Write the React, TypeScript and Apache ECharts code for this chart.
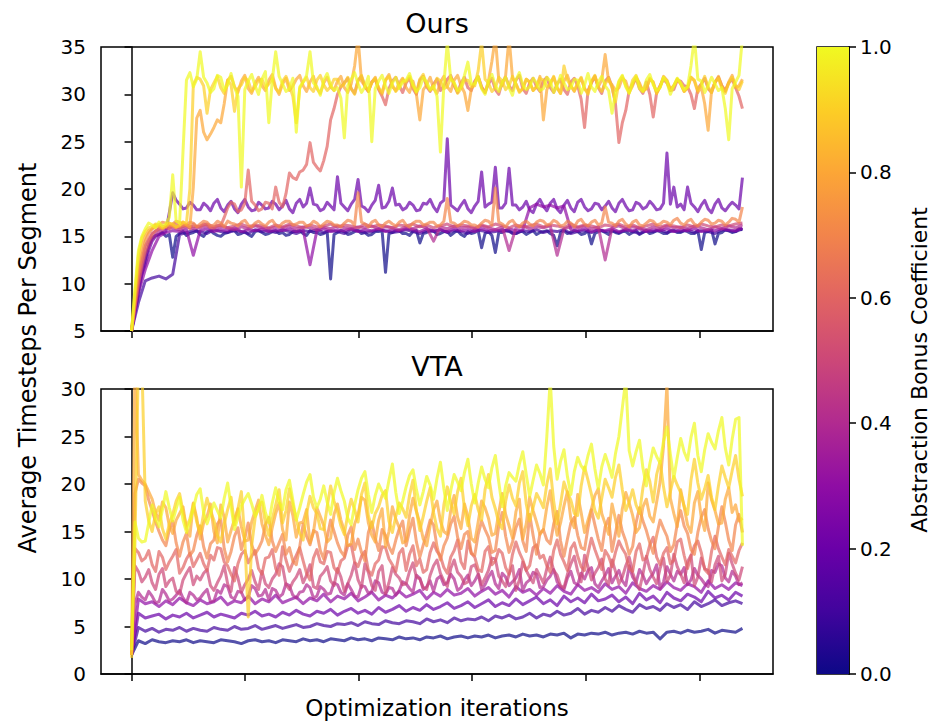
import React, { useEffect, useRef } from "react";
import * as echarts from "echarts";

// ---------- data ----------
const COEFS = [0.0, 0.1, 0.2, 0.3, 0.4, 0.5, 0.6, 0.7, 0.8, 0.9, 1.0];
const PLASMA = ["#0d0887", "#41049d", "#6a00a8", "#8f0da4", "#b12a90", "#cc4778", "#e16462", "#f2844b", "#fca636", "#fcce25", "#f0f921"];
const X_TICKS = [0, 100, 200, 300, 400, 500];
const X_LAST = 538; // last iteration shown
const CB_TICKS = [0, 0.2, 0.4, 0.6, 0.8, 1.0];

// "Ours" panel, one array per coefficient (samples evenly spaced over the run)
const OURS_00 = [5.0, 7.0, 9.0, 11.0, 12.5, 14.0, 14.8, 15.1, 15.2, 15.4, 15.0, 15.2, 12.8, 15.0, 15.3, 15.5, 15.1, 15.3, 15.4, 15.6,
  15.2, 15.0, 15.5, 15.6, 15.3, 15.1, 15.0, 15.3, 15.4, 15.6, 15.6, 15.2, 15.3, 15.5, 15.2, 15.0, 15.5, 15.6, 15.4, 15.2,
  15.3, 15.5, 15.6, 15.3, 15.4, 15.1, 15.2, 15.5, 15.5, 15.6, 15.3, 15.1, 15.6, 15.4, 15.4, 15.2, 15.3, 15.5, 10.5, 15.2,
  15.4, 15.6, 15.5, 15.2, 15.3, 15.5, 15.6, 15.3, 15.4, 15.1, 15.2, 15.5, 15.5, 15.6, 11.2, 15.3, 15.4, 15.6, 15.6, 15.3,
  15.3, 15.1, 15.5, 15.6, 14.3, 15.3, 15.4, 15.6, 15.6, 15.2, 15.3, 15.5, 15.5, 15.1, 15.4, 15.6, 15.2, 15.0, 15.5, 15.3,
  15.4, 15.6, 13.8, 15.3, 15.5, 15.1, 13.3, 15.4, 15.4, 15.6, 15.6, 15.3, 15.3, 15.5, 15.5, 15.2, 15.4, 15.6, 15.2, 15.4,
  15.5, 15.6, 15.3, 15.1, 14.0, 15.4, 15.6, 15.3, 15.4, 15.6, 15.5, 15.2, 15.3, 15.6, 14.2, 15.3, 15.5, 15.6, 15.4, 15.2,
  15.6, 15.4, 15.3, 15.5, 15.5, 15.2, 15.4, 15.6, 15.2, 15.4, 15.6, 15.3, 15.4, 15.6, 15.5, 15.3, 15.3, 15.6, 15.6, 15.4,
  15.4, 15.6, 15.5, 15.3, 15.3, 15.6, 13.6, 15.4, 15.5, 15.7, 14.2, 15.3, 15.4, 15.7, 15.6, 15.4, 15.5, 15.8, 15.7];
const OURS_01 = [5.0, 8.0, 10.3, 10.6, 10.8, 10.5, 11.0, 15.2, 15.4, 15.6, 15.5, 15.3, 15.7, 15.5, 15.4, 15.6, 15.5, 15.3, 15.7, 15.5, 15.6, 15.4, 15.7, 15.5, 15.3, 15.6, 15.5, 15.7, 15.4, 15.6, 15.5, 15.3, 15.7, 15.6, 15.4, 15.5, 15.7, 15.6, 15.4, 15.5, 15.7, 15.5, 15.3, 15.6, 15.5, 15.7, 15.4, 15.6, 15.5, 15.3, 15.7, 15.6, 15.4, 15.5, 15.7, 15.5, 15.3, 15.6, 15.5, 15.7, 15.4, 15.6, 15.5, 15.7, 15.3, 15.5, 15.6, 15.4, 15.7, 15.5, 15.6, 15.4, 15.7, 15.5, 15.3, 15.6, 15.5, 15.7, 15.4, 15.6, 15.5, 15.7, 15.4, 15.6, 15.5, 15.3, 15.7, 15.6, 15.5, 15.8];
const OURS_02 = [5.0, 7.5, 9.5, 11.0, 12.0, 13.5, 14.5, 15.0, 15.2, 15.4, 15.5, 17.5, 19.6, 18.8, 18.4, 17.9, 18.0, 18.6, 18.3, 17.8,
  17.8, 18.5, 18.2, 17.7, 18.5, 18.9, 18.0, 17.6, 18.3, 18.7, 17.9, 17.5, 18.4, 18.9, 18.1, 17.7, 17.8, 18.6, 18.3, 17.9,
  18.0, 18.7, 18.4, 17.8, 18.2, 18.8, 17.9, 17.5, 18.5, 18.9, 18.1, 18.5, 20.1, 18.4, 18.3, 17.7, 17.9, 18.6, 18.2, 17.8,
  21.3, 18.5, 18.1, 17.7, 18.4, 18.9, 21.0, 18.2, 18.0, 17.6, 18.3, 18.8, 20.4, 18.0, 18.1, 18.7, 20.1, 18.3, 18.4, 17.8,
  18.0, 18.6, 18.3, 17.7, 17.8, 18.5, 18.4, 18.9, 18.1, 17.6, 18.5, 18.8, 25.3, 18.3, 18.0, 17.7, 18.3, 18.8, 17.9, 17.5,
  18.2, 18.7, 21.8, 18.1, 18.4, 18.6, 22.3, 18.0, 18.0, 18.5, 22.2, 18.3, 18.3, 17.8, 18.1, 18.7, 17.8, 17.5, 18.4, 18.9,
  18.2, 17.7, 18.5, 18.9, 17.9, 17.5, 18.3, 18.8, 18.0, 17.6, 18.6, 18.9, 18.1, 17.7, 17.9, 18.5, 18.4, 17.8, 18.2, 18.7,
  18.0, 17.6, 18.5, 18.9, 18.2, 17.7, 17.8, 18.6, 18.4, 17.9, 18.1, 18.7, 18.3, 17.8, 17.9, 18.5, 23.8, 18.4, 20.2, 18.1,
  18.4, 17.8, 20.2, 18.5, 18.1, 17.6, 18.3, 18.8, 17.9, 17.5, 18.4, 18.9, 18.0, 17.7, 18.2, 18.6, 18.3, 17.9, 21.2];
const OURS_03 = [5.0, 9.0, 11.5, 13.5, 15.0, 15.4, 15.6, 15.5, 15.7, 13.0, 15.6, 15.8, 15.5, 15.7, 15.6, 15.9, 15.5, 15.7, 15.6, 15.8, 15.5, 15.7, 15.6, 15.8, 15.5, 15.7, 12.0, 15.6, 15.8, 15.5, 15.7, 15.6, 15.8, 15.5, 15.7, 15.6, 15.8, 15.5, 15.7, 15.6, 15.8, 15.7, 15.5, 15.8, 15.6, 15.7, 15.5, 15.8, 15.6, 15.7, 15.5, 15.8, 15.6, 15.7, 15.5, 15.8, 15.6, 15.7, 18.0, 18.4, 18.1, 18.3, 18.0, 18.2, 15.7, 15.6, 15.8, 15.5, 15.7, 15.6, 15.8, 15.5, 15.7, 15.6, 15.8, 15.5, 15.7, 15.6, 15.8, 15.5, 15.7, 15.6, 15.8, 15.5, 15.7, 15.6, 15.8, 15.7, 15.6, 15.9];
const OURS_04 = [5.0, 10.0, 13.0, 14.8, 15.5, 15.8, 15.9, 15.7, 16.0, 15.8, 15.9, 16.1, 15.8, 16.0, 15.9, 15.7, 16.0, 15.8, 16.1, 15.9, 15.8, 16.0, 15.9, 16.1, 15.8, 16.0, 15.9, 15.7, 16.0, 15.8, 16.1, 15.9, 15.8, 16.0, 15.9, 16.1, 15.8, 16.0, 15.9, 15.7, 16.0, 15.8, 16.1, 15.9, 14.5, 16.0, 15.8, 16.1, 15.9, 16.0, 15.8, 16.1, 15.9, 15.7, 16.0, 13.5, 15.9, 16.1, 15.8, 16.0, 15.9, 16.1, 13.0, 15.8, 16.0, 15.9, 16.1, 15.8, 16.0, 12.5, 15.9, 16.1, 15.8, 16.0, 15.9, 15.7, 16.0, 15.8, 16.1, 15.9, 16.0, 15.8, 16.1, 15.9, 15.7, 16.0, 15.8, 16.1, 15.9, 16.2];
const OURS_05 = [5.0, 11.0, 14.0, 15.3, 15.8, 16.0, 16.1, 15.9, 16.2, 16.0, 16.1, 16.3, 16.0, 16.2, 15.9, 16.1, 16.3, 16.0, 16.2, 16.1, 15.9, 16.2, 16.0, 16.3, 16.1, 15.9, 16.2, 16.0, 16.1, 16.3, 16.0, 16.2, 16.1, 15.9, 16.3, 16.0, 16.2, 16.1, 15.9, 16.2, 16.1, 16.3, 16.0, 16.2, 15.9, 16.1, 16.3, 16.0, 16.2, 16.1, 15.9, 16.2, 16.0, 16.3, 16.1, 15.9, 16.2, 16.0, 16.1, 16.3, 16.0, 16.2, 16.1, 15.9, 16.3, 16.0, 16.2, 16.1, 15.9, 16.2, 16.1, 16.3, 16.0, 16.2, 15.9, 16.1, 16.3, 16.0, 16.2, 16.1, 15.9, 16.2, 16.0, 16.3, 16.1, 16.0, 16.2, 16.1, 16.3, 16.4];
const OURS_06 = [5.0, 7.5, 10.0, 12.0, 13.5, 14.5, 15.2, 15.6, 15.8, 16.1, 16.0, 15.8, 16.2, 16.4, 15.9, 16.1, 16.1, 15.8, 16.3, 16.0,
  16.0, 16.3, 16.2, 15.9, 15.9, 16.2, 16.1, 17.0, 18.0, 18.6, 18.4, 17.6, 17.8, 18.5, 22.0, 18.7, 18.3, 17.7, 17.9, 18.6,
  18.5, 17.9, 20.2, 18.6, 18.1, 19.5, 21.7, 21.2, 21.0, 21.8, 22.0, 22.6, 24.9, 22.8, 22.3, 21.9, 23.0, 24.5, 27.3, 28.5,
  30.0, 30.8, 31.2, 31.7, 30.6, 30.1, 31.5, 31.9, 30.8, 30.3, 31.3, 31.6, 30.5, 29.8, 28.9, 30.6, 31.4, 31.8, 30.9, 30.2,
  31.2, 31.7, 30.6, 30.0, 31.5, 31.9, 30.8, 30.3, 31.1, 31.6, 30.4, 30.9, 31.6, 32.0, 30.9, 30.2, 31.2, 31.8, 30.7, 30.4,
  31.4, 31.9, 30.8, 30.2, 31.1, 31.7, 30.5, 30.0, 31.3, 31.8, 30.9, 30.4, 31.5, 32.0, 30.6, 30.1, 31.2, 31.7, 30.8, 30.3,
  31.4, 31.8, 30.7, 30.2, 31.1, 31.6, 30.5, 30.0, 31.3, 31.7, 30.9, 29.5, 26.5, 30.4, 31.2, 31.9, 30.7, 30.1, 31.4, 31.8,
  30.8, 29.0, 24.9, 27.0, 28.3, 30.4, 31.1, 31.7, 30.6, 30.1, 31.3, 30.0, 27.6, 30.2, 30.9, 31.6, 31.2, 30.4, 30.5, 31.5,
  31.4, 30.9, 30.8, 30.0, 28.5, 30.6, 31.1, 31.7, 30.6, 30.2, 31.3, 31.8, 30.9, 30.4, 31.2, 31.6, 30.7, 29.8, 28.5];
const OURS_07 = [5.0, 8.0, 11.0, 13.0, 14.5, 15.3, 15.8, 16.0, 16.2, 16.5, 16.4, 16.1, 16.3, 16.6, 16.5, 16.2, 16.2, 16.5, 16.4, 16.0,
  16.3, 16.6, 16.5, 16.1, 16.2, 16.6, 16.4, 16.0, 16.6, 16.4, 16.3, 16.1, 16.5, 16.7, 16.2, 16.0, 16.4, 16.6, 16.3, 16.1,
  16.5, 16.7, 16.2, 16.0, 16.4, 16.6, 16.6, 16.2, 16.3, 16.5, 16.5, 16.1, 16.2, 16.6, 16.4, 16.0, 16.3, 16.6, 16.5, 16.2,
  16.2, 16.0, 16.4, 16.7, 16.6, 16.2, 19.6, 16.5, 16.3, 16.0, 16.5, 16.7, 16.2, 16.0, 16.4, 16.6, 16.3, 16.1, 16.5, 16.7,
  16.2, 16.0, 16.4, 16.6, 16.6, 16.2, 16.3, 16.5, 16.5, 16.1, 16.2, 16.6, 19.0, 16.5, 16.4, 16.1, 16.3, 16.6, 16.5, 16.2,
  16.2, 16.0, 16.4, 16.7, 16.6, 16.2, 20.1, 16.5, 16.3, 16.0, 16.5, 16.7, 16.2, 16.0, 16.4, 16.6, 16.3, 16.1, 16.5, 16.7,
  16.6, 16.2, 16.3, 16.7, 16.5, 16.1, 16.2, 16.6, 16.4, 16.0, 16.6, 16.8, 16.3, 16.1, 16.5, 16.7, 16.2, 16.4, 18.1, 16.5,
  16.4, 16.1, 16.6, 16.8, 16.3, 16.0, 16.5, 16.7, 16.2, 16.1, 16.4, 16.7, 16.6, 16.2, 16.3, 16.6, 16.5, 16.2, 16.7, 16.9,
  16.4, 16.2, 16.6, 16.8, 16.3, 16.1, 16.5, 16.8, 16.7, 16.3, 16.4, 16.7, 16.6, 16.2, 16.5, 16.9, 16.8, 16.5, 18.1];
const OURS_08 = [5.0, 8.5, 12.0, 14.0, 15.0, 15.6, 15.8, 16.2, 16.0, 15.8, 16.2, 16.4, 16.1, 15.9, 16.3, 16.5, 16.2, 16.0, 20.2, 27.5,
  28.3, 26.0, 25.2, 25.8, 26.5, 27.3, 27.0, 29.0, 31.5, 31.9, 30.8, 30.2, 31.4, 32.0, 30.6, 30.1, 31.2, 31.8, 30.9, 30.4,
  31.5, 32.1, 30.7, 30.0, 31.1, 31.7, 30.4, 30.9, 31.6, 32.0, 30.9, 30.3, 31.3, 31.9, 30.6, 30.1, 31.2, 31.8, 30.8, 30.4,
  31.4, 31.9, 30.7, 30.2, 31.1, 33.0, 36.0, 31.4, 30.9, 30.3, 31.3, 31.8, 30.6, 30.0, 31.5, 32.1, 30.8, 30.4, 31.2, 31.7,
  30.7, 30.2, 31.4, 30.0, 27.3, 30.5, 31.0, 31.8, 30.6, 30.1, 31.3, 31.9, 30.8, 30.3, 31.5, 32.0, 30.9, 30.2, 28.3, 30.6,
  31.2, 31.8, 30.7, 30.2, 31.4, 33.5, 36.0, 31.5, 30.9, 32.0, 36.0, 31.7, 31.1, 30.3, 30.6, 31.6, 31.3, 30.4, 30.8, 31.9,
  27.3, 30.5, 31.2, 31.8, 30.7, 30.1, 31.4, 32.0, 30.9, 30.3, 31.1, 31.7, 30.6, 30.2, 31.3, 31.9, 30.8, 31.5, 34.2, 31.4,
  31.0, 30.4, 30.7, 31.7, 31.4, 30.2, 30.9, 31.8, 31.2, 30.3, 30.6, 31.6, 31.3, 30.1, 30.8, 31.9, 31.5, 30.5, 30.9, 31.6,
  31.1, 30.3, 30.7, 31.8, 31.4, 30.2, 30.8, 29.0, 26.2, 30.4, 31.2, 31.9, 30.9, 30.3, 31.3, 32.0, 30.7, 30.9, 31.6];
const OURS_09 = [5.0, 9.0, 13.0, 14.8, 15.5, 15.9, 16.0, 16.3, 16.2, 15.9, 16.0, 16.4, 16.3, 16.0, 16.1, 16.5, 16.4, 20.0, 31.0, 31.8,
  31.6, 30.9, 28.0, 30.5, 31.2, 31.9, 30.7, 30.1, 31.5, 31.0, 28.2, 30.6, 31.0, 31.8, 31.4, 30.3, 30.8, 31.5, 31.6, 30.7,
  31.1, 31.7, 30.6, 30.2, 31.4, 31.9, 30.9, 29.8, 27.0, 30.6, 31.3, 31.8, 30.7, 30.3, 31.5, 32.0, 31.0, 30.4, 30.8, 31.6,
  31.6, 30.8, 31.1, 31.8, 30.6, 30.0, 31.4, 32.0, 30.9, 30.4, 31.2, 31.7, 30.7, 30.2, 31.5, 31.9, 31.0, 30.3, 30.8, 31.6,
  31.3, 31.9, 30.9, 30.2, 31.6, 32.1, 31.0, 30.4, 30.7, 31.7, 31.4, 30.6, 30.8, 31.8, 31.2, 30.1, 30.6, 31.5, 31.5, 30.8,
  30.9, 32.5, 35.5, 31.6, 31.2, 30.3, 30.7, 31.8, 31.4, 30.5, 30.9, 31.9, 31.1, 30.2, 30.6, 31.6, 31.3, 30.4, 30.8, 31.7,
  31.5, 30.8, 31.0, 31.9, 30.7, 30.1, 33.0, 31.5, 30.9, 30.4, 31.2, 31.8, 30.6, 30.0, 31.4, 32.0, 30.8, 30.3, 31.1, 31.7,
  30.7, 29.2, 31.3, 31.9, 30.9, 30.2, 31.5, 32.0, 31.0, 30.4, 30.6, 31.7, 31.2, 30.1, 30.8, 31.8, 31.4, 30.5, 30.9, 31.6,
  31.1, 30.3, 30.7, 31.8, 31.5, 30.4, 31.0, 31.9, 30.8, 30.2, 31.3, 31.7, 30.6, 30.1, 31.2, 31.8, 31.0, 30.5, 31.4];
const OURS_10 = [5.0, 9.5, 13.5, 15.0, 15.8, 16.4, 16.2, 15.9, 16.5, 16.1, 16.3, 17.0, 21.5, 16.6, 16.4, 24.0, 31.5, 32.3, 30.8, 31.6,
  34.5, 31.8, 31.2, 30.2, 30.6, 32.0, 31.8, 30.4, 31.0, 32.2, 30.7, 29.8, 20.2, 30.5, 31.4, 32.1, 30.9, 30.0, 31.6, 32.4,
  27.0, 31.5, 34.5, 31.9, 31.1, 30.3, 30.6, 31.7, 26.0, 30.8, 31.3, 32.0, 34.5, 31.2, 30.8, 29.9, 31.5, 32.2, 31.0, 30.4,
  30.7, 29.6, 25.4, 30.9, 31.6, 32.3, 31.1, 30.2, 30.8, 31.9, 25.0, 30.6, 31.4, 32.0, 30.9, 30.1, 31.2, 31.8, 30.6, 31.3,
  31.5, 32.2, 31.0, 30.3, 30.7, 31.8, 31.3, 30.5, 30.9, 29.8, 23.9, 31.0, 35.5, 31.6, 31.2, 30.4, 30.8, 32.0, 33.4, 31.1,
  31.1, 31.9, 30.6, 30.0, 31.4, 32.1, 30.9, 30.3, 31.3, 31.8, 30.7, 29.9, 31.5, 32.3, 31.0, 30.5, 30.8, 31.7, 31.2, 30.4,
  30.6, 31.8, 31.4, 30.2, 30.9, 32.0, 31.2, 30.5, 30.7, 31.6, 31.5, 30.1, 31.0, 32.2, 30.8, 30.3, 31.3, 31.9, 30.9, 30.4,
  28.0, 30.2, 31.4, 32.0, 30.8, 30.1, 31.2, 31.9, 30.6, 30.3, 31.5, 32.1, 31.0, 30.4, 30.7, 31.8, 31.3, 30.0, 30.9, 31.7,
  31.2, 30.5, 30.8, 33.0, 36.0, 31.6, 31.4, 30.2, 30.9, 31.8, 31.1, 30.4, 30.7, 28.5, 25.2, 30.6, 31.3, 32.0, 36.0];

// "VTA" panel
const VTA_00 = [2.0, 3.5, 3.2, 3.6, 3.4, 3.3, 3.5, 3.4, 3.6, 3.3, 3.5, 3.4, 3.3, 3.6, 3.5, 3.4, 3.2, 3.5, 3.6, 3.4, 3.5, 3.3, 3.6, 3.5, 3.4, 3.7, 3.5, 3.6, 3.4, 3.7, 3.6, 3.5, 3.8, 3.6, 3.7, 3.5, 3.8, 3.7, 3.6, 3.9, 3.7, 3.8, 3.6, 3.9, 3.8, 4.0, 3.7, 3.9, 4.0, 3.8, 4.0, 3.9, 4.1, 3.8, 4.0, 4.1, 3.9, 4.2, 4.0, 4.1, 3.9, 4.2, 4.1, 4.3, 3.8, 4.2, 4.1, 4.3, 4.2, 4.4, 4.1, 4.3, 4.4, 4.2, 4.5, 4.3, 4.4, 3.7, 4.4, 4.5, 4.3, 4.6, 4.4, 4.5, 4.7, 4.3, 4.6, 4.5, 4.4, 4.8];
const VTA_01 = [2.0, 4.9, 4.5, 4.8, 4.4, 4.7, 4.6, 4.9, 4.5, 4.8, 4.6, 4.5, 4.9, 4.7, 4.6, 5.0, 4.7, 4.8, 5.1, 4.7, 4.9, 5.1, 4.8, 5.0, 5.2, 4.9, 5.0, 5.3, 5.1, 5.0, 5.3, 5.2, 5.4, 5.1, 5.5, 5.3, 5.2, 5.6, 5.4, 5.3, 5.6, 5.5, 5.3, 5.8, 5.5, 5.7, 5.4, 5.9, 5.6, 5.8, 5.7, 6.0, 5.6, 6.1, 5.9, 6.2, 5.8, 6.0, 6.4, 5.9, 6.3, 6.1, 6.6, 6.2, 6.4, 6.9, 6.3, 6.7, 6.5, 7.0, 6.6, 7.2, 6.8, 6.5, 7.3, 6.9, 7.1, 6.7, 7.4, 7.0, 7.3, 6.8, 7.6, 7.1, 7.4, 7.8, 7.2, 7.5, 7.7, 7.4];
const VTA_02 = [2.0, 6.4, 5.9, 6.1, 6.3, 5.8, 6.2, 6.0, 6.4, 5.9, 6.2, 6.5, 6.0, 6.3, 6.1, 5.9, 6.4, 6.2, 6.6, 6.1, 6.3, 6.0, 6.5, 6.2, 6.7, 6.3, 6.1, 6.6, 6.4, 6.8, 6.2, 6.6, 6.9, 6.4, 6.7, 6.3, 7.0, 6.5, 6.8, 7.2, 6.6, 7.0, 6.7, 7.3, 6.8, 7.1, 7.5, 6.9, 7.2, 7.6, 7.0, 7.4, 7.8, 7.1, 7.5, 7.2, 7.9, 7.3, 7.7, 8.1, 7.4, 7.8, 7.2, 8.2, 7.6, 8.0, 7.5, 8.4, 7.7, 7.9, 8.3, 7.6, 8.1, 7.4, 8.5, 7.8, 8.2, 7.5, 8.6, 8.0, 7.7, 8.4, 8.1, 7.6, 8.7, 8.0, 8.3, 7.8, 8.6, 8.2];
const VTA_03 = [2.0, 7.9, 7.4, 7.6, 7.1, 7.7, 7.3, 8.0, 7.5, 7.2, 7.8, 7.4, 7.6, 8.1, 7.3, 7.7, 7.5, 8.2, 7.4, 7.9, 7.6, 8.3, 7.5, 7.8, 8.1, 7.4, 8.0, 7.7, 8.4, 7.6, 8.2, 7.9, 8.5, 7.7, 8.1, 8.6, 7.8, 8.3, 8.0, 8.7, 8.1, 8.4, 8.8, 7.9, 8.6, 8.2, 8.9, 8.3, 8.5, 9.0, 8.2, 8.7, 9.1, 8.4, 8.8, 8.1, 9.2, 8.6, 8.9, 8.3, 9.0, 8.5, 9.3, 8.7, 8.4, 9.4, 8.8, 9.1, 8.6, 9.5, 8.9, 9.2, 8.5, 9.6, 9.0, 8.7, 9.3, 8.9, 9.7, 9.1, 8.8, 9.5, 9.2, 8.6, 9.8, 9.0, 9.4, 8.9, 9.6, 9.3];
const VTA_04 = [2.0, 7.4, 8.6, 8.1, 7.8, 8.7, 8.2, 7.5, 7.6, 8.9, 8.4, 7.7, 7.9, 8.3, 8.8, 8.0, 7.5, 8.6, 8.3, 7.8,
  8.0, 8.5, 8.9, 7.6, 7.7, 8.8, 8.5, 9.4, 9.2, 8.1, 7.9, 8.7, 8.6, 7.8, 8.1, 9.3, 9.0, 8.2, 8.3, 8.9,
  7.8, 9.0, 8.8, 8.1, 8.4, 9.5, 9.3, 8.3, 8.0, 8.6, 8.7, 9.4, 9.1, 8.0, 8.2, 9.2, 8.9, 8.4, 8.5, 9.6,
  9.4, 8.6, 8.3, 9.5, 8.9, 8.2, 8.1, 9.3, 9.2, 8.5, 8.7, 9.8, 9.6, 8.6, 8.4, 9.1, 9.0, 8.3, 8.8, 9.7,
  9.5, 9.0, 8.6, 10.4, 10.1, 8.9, 9.2, 9.8, 8.7, 10.0, 10.3, 9.4, 9.6, 10.5, 10.0, 8.8, 9.1, 9.9, 10.4, 9.3,
  9.8, 10.5, 8.9, 9.4, 10.2, 10.8, 9.5, 9.0, 10.6, 10.2, 9.3, 9.7, 10.1, 11.0, 8.8, 9.6, 9.9, 10.7, 10.5, 9.1,
  9.2, 9.9, 10.3, 11.0, 9.7, 9.2, 8.9, 10.1, 10.8, 9.6, 9.4, 10.6, 10.0, 10.9, 11.2, 9.5, 9.1, 9.8, 10.4, 11.1,
  9.6, 10.3, 10.9, 9.8, 9.3, 11.4, 10.2, 9.6, 11.0, 10.4, 9.5, 10.1, 10.6, 11.5, 9.0, 9.7, 11.3, 10.5, 9.8, 10.8,
  10.5, 11.2, 9.4, 9.9, 11.1, 10.4, 10.0, 9.5, 9.2, 10.9, 10.7, 11.6, 11.4, 10.1, 9.7, 10.8, 10.3, 9.4, 9.6];
const VTA_05 = [2.0, 11.4, 10.8, 9.7, 10.2, 11.0, 9.6, 8.9, 10.5, 11.1, 9.2, 9.8, 10.1, 8.7, 8.4, 9.9, 10.6, 11.2, 9.4, 10.3,
  9.9, 10.6, 11.0, 9.3, 8.8, 9.6, 10.3, 11.4, 9.5, 8.7, 11.2, 10.1, 8.6, 9.4, 10.0, 10.9, 9.7, 8.9, 10.8, 9.5,
  9.1, 10.0, 10.5, 11.6, 11.3, 9.4, 8.9, 9.7, 10.2, 11.0, 9.6, 10.4, 11.5, 9.2, 9.0, 10.3, 10.7, 11.3, 9.8, 9.3,
  11.1, 10.2, 8.7, 9.5, 10.4, 11.7, 9.9, 9.1, 11.6, 10.7, 9.3, 8.8, 10.8, 11.4, 8.5, 9.6, 11.2, 10.5, 10.1, 9.4,
  9.5, 10.8, 11.7, 10.2, 10.0, 9.1, 8.9, 10.4, 11.4, 12.0, 10.6, 9.8, 9.2, 11.1, 12.0, 10.7, 10.3, 9.5, 9.7, 11.3,
  11.5, 10.6, 9.4, 10.1, 10.9, 12.2, 12.1, 10.3, 9.8, 9.2, 10.5, 11.4, 8.8, 9.9, 11.8, 10.9, 10.2, 9.6, 11.0, 10.3,
  9.6, 11.1, 12.3, 10.9, 10.4, 9.3, 9.1, 10.5, 11.6, 12.4, 10.8, 9.7, 12.5, 11.3, 9.9, 10.6, 11.2, 12.1, 10.0, 9.4,
  12.0, 10.8, 9.5, 10.2, 11.4, 12.3, 10.7, 9.6, 8.9, 10.5, 12.4, 11.0, 10.2, 9.5, 11.1, 12.2, 9.7, 10.4, 12.6, 11.3,
  10.5, 9.6, 11.8, 12.5, 9.3, 10.2, 12.2, 11.1, 10.9, 9.7, 11.5, 12.4, 9.8, 10.5, 12.7, 11.6, 10.6, 9.9, 11.3];
const VTA_06 = [2.0, 13.2, 12.8, 11.9, 12.2, 13.0, 11.5, 10.8, 12.9, 12.3, 11.0, 11.8, 12.4, 13.1, 10.6, 11.2, 12.1, 12.7, 11.3, 12.0,
  12.7, 11.6, 10.9, 12.5, 12.0, 13.3, 13.2, 11.8, 11.4, 10.5, 9.8, 11.6, 12.6, 13.0, 11.7, 12.4, 13.0, 11.1, 10.5, 12.2,
  12.3, 13.1, 11.1, 10.4, 13.4, 12.0, 10.8, 11.7, 12.5, 13.3, 11.9, 10.6, 9.9, 12.2, 13.1, 11.8, 11.6, 12.9, 12.8, 11.2,
  10.7, 11.9, 12.2, 13.5, 13.6, 11.8, 11.3, 12.4, 12.9, 10.9, 10.4, 11.6, 12.0, 13.4, 13.3, 12.1, 11.5, 10.8, 12.7, 13.2,
  10.9, 12.6, 13.5, 11.4, 12.1, 10.7, 11.0, 12.8, 13.8, 12.9, 12.4, 11.2, 10.6, 12.3, 13.0, 14.1, 11.8, 11.1, 14.0, 12.7,
  12.3, 11.0, 10.8, 12.9, 13.4, 11.5, 11.9, 13.1, 12.7, 11.2, 10.5, 12.6, 13.9, 12.8, 12.0, 10.9, 11.4, 13.3, 13.6, 12.2,
  12.5, 11.4, 10.7, 13.0, 14.1, 12.6, 11.8, 10.9, 13.2, 13.8, 12.4, 11.3, 10.9, 12.7, 14.3, 13.1, 12.1, 11.0, 13.0, 12.4,
  11.3, 12.8, 14.0, 13.2, 12.6, 11.1, 10.8, 12.9, 13.7, 12.0, 12.2, 13.6, 14.4, 12.3, 11.5, 12.7, 13.3, 11.6, 12.0, 13.9,
  14.2, 12.5, 11.1, 12.4, 13.5, 14.0, 12.8, 11.0, 10.6, 12.9, 14.5, 13.2, 12.3, 11.5, 13.1, 12.4, 11.7, 13.0, 13.8];
const VTA_07 = [2.0, 19.0, 20.5, 20.1, 19.8, 18.3, 17.2, 16.0, 15.0, 14.1, 13.5, 15.2, 16.1, 13.8, 12.4, 13.9, 14.8, 12.5, 13.0, 14.6,
  15.6, 13.4, 12.2, 13.7, 14.1, 15.8, 16.3, 13.2, 11.8, 12.9, 14.5, 15.4, 13.1, 14.3, 15.9, 13.6, 12.6, 13.2, 14.0, 15.7,
  16.5, 14.0, 12.9, 13.8, 14.7, 12.6, 13.3, 11.9, 11.5, 13.4, 15.8, 14.5, 13.6, 15.1, 14.9, 13.0, 12.1, 14.4, 16.2, 15.0,
  13.8, 12.9, 12.4, 14.6, 15.5, 13.1, 14.2, 12.8, 11.9, 14.9, 16.0, 14.3, 13.0, 15.2, 14.6, 13.4, 12.7, 14.1, 15.3, 16.1,
  13.5, 15.1, 16.4, 13.9, 12.3, 13.6, 14.8, 16.2, 15.7, 13.4, 12.0, 13.5, 14.3, 15.8, 16.6, 14.4, 13.2, 14.7, 15.0, 12.7,
  12.5, 14.7, 16.1, 15.2, 14.4, 12.8, 13.0, 15.6, 17.0, 14.5, 12.8, 13.9, 15.4, 16.3, 14.0, 12.9, 16.8, 14.6, 12.6, 14.8,
  15.2, 14.1, 13.7, 15.8, 17.1, 14.0, 12.4, 14.2, 15.9, 16.5, 14.6, 13.3, 13.1, 15.4, 17.3, 15.7, 14.2, 13.0, 15.5, 16.4,
  12.9, 14.8, 16.7, 15.0, 14.0, 12.6, 13.4, 15.9, 17.5, 16.1, 15.1, 13.8, 12.7, 14.6, 16.2, 15.3, 14.5, 12.9, 13.6, 15.8,
  17.2, 15.6, 14.8, 13.1, 12.6, 14.9, 16.5, 17.3, 15.3, 14.0, 13.2, 15.5, 17.6, 16.0, 14.1, 13.0, 15.7, 16.8, 14.9];
const VTA_08 = [2.0, 33.0, 21.0, 20.4, 20.0, 19.2, 18.4, 17.0, 16.2, 18.1, 17.5, 15.6, 14.8, 16.2, 16.9, 17.6, 15.3, 14.5, 18.0, 16.4,
  14.2, 15.9, 16.6, 17.9, 15.0, 13.8, 17.8, 16.5, 13.9, 15.1, 16.3, 17.4, 15.5, 14.0, 14.1, 16.0, 17.2, 18.3, 15.8, 14.6,
  13.6, 15.4, 16.9, 18.0, 15.2, 14.1, 18.1, 16.7, 14.4, 15.9, 16.0, 17.3, 13.8, 14.9, 17.5, 16.6, 15.6, 13.9, 14.3, 16.8,
  17.9, 16.2, 15.1, 13.5, 13.7, 15.8, 16.8, 18.6, 18.3, 15.9, 14.6, 13.9, 16.2, 17.4, 13.4, 15.0, 17.6, 16.3, 15.4, 13.8,
  14.0, 16.7, 18.5, 17.1, 15.9, 14.2, 13.5, 15.6, 17.3, 18.2, 16.1, 15.0, 14.7, 17.2, 18.8, 16.5, 15.3, 17.9, 16.6, 14.3,
  13.9, 16.0, 18.2, 17.5, 16.4, 14.6, 14.8, 17.0, 19.0, 16.8, 15.6, 14.3, 17.1, 18.4, 14.2, 15.8, 18.6, 17.2, 16.0, 14.7,
  15.2, 17.6, 19.3, 16.5, 14.6, 15.9, 17.7, 19.2, 16.3, 15.4, 18.9, 17.0, 14.9, 16.2, 17.4, 18.8, 19.5, 16.9, 15.8, 14.7,
  17.9, 16.3, 14.5, 17.4, 19.1, 18.0, 16.7, 14.9, 15.4, 17.6, 18.4, 16.6, 16.0, 18.1, 20.2, 24.0, 30.5, 18.5, 16.9, 15.5,
  19.4, 17.6, 15.7, 14.9, 18.0, 19.2, 16.5, 15.1, 20.1, 18.3, 17.2, 15.8, 15.9, 18.4, 19.6, 17.0, 17.8, 16.1, 16.4];
const VTA_09 = [1.7, 14.0, 33.0, 33.0, 18.2, 16.1, 15.0, 16.9, 17.6, 15.3, 14.2, 15.8, 16.8, 18.2, 19.0, 17.1, 15.5, 16.3, 17.9, 16.0,
  14.8, 16.9, 18.5, 17.1, 16.2, 14.6, 13.9, 15.8, 17.3, 18.6, 15.7, 17.4, 19.2, 14.2, 6.0, 13.5, 16.4, 17.7, 18.1, 15.9,
  14.6, 16.3, 17.8, 19.4, 15.9, 17.2, 19.5, 17.8, 16.3, 14.8, 14.1, 16.9, 18.7, 17.5, 16.9, 15.3, 15.2, 17.6, 19.8, 18.2,
  17.1, 15.6, 14.7, 16.8, 18.4, 17.3, 16.0, 18.9, 20.1, 16.7, 15.4, 16.9, 17.6, 18.8, 19.3, 16.1, 14.9, 16.6, 18.0, 17.4,
  16.5, 18.8, 20.4, 17.2, 15.1, 16.6, 18.2, 19.6, 17.0, 15.3, 14.5, 17.8, 19.7, 18.1, 16.8, 19.2, 20.6, 17.4, 15.6, 17.7,
  18.9, 17.3, 16.2, 19.4, 21.0, 18.6, 17.4, 15.9, 15.3, 18.2, 19.9, 18.5, 17.7, 20.1, 21.3, 17.9, 16.1, 17.5, 19.0, 18.3,
  17.5, 20.0, 21.6, 18.2, 15.8, 17.9, 20.2, 19.1, 18.3, 16.9, 16.7, 19.8, 21.8, 20.4, 18.9, 17.2, 16.4, 18.5, 20.5, 19.6,
  18.6, 20.7, 22.0, 19.4, 17.2, 18.1, 19.4, 17.8, 16.9, 19.6, 21.5, 20.3, 18.1, 21.0, 22.4, 19.7, 17.6, 19.2, 20.8, 19.9,
  19.1, 17.7, 16.8, 20.4, 22.6, 20.1, 18.4, 19.5, 20.9, 18.6, 17.3, 19.8, 21.9, 20.7, 19.6, 21.4, 23.0, 20.5, 18.7];
const VTA_10 = [2.5, 16.0, 14.3, 13.9, 14.0, 15.9, 17.8, 16.4, 15.5, 17.3, 19.2, 17.5, 16.1, 17.4, 18.6, 16.2, 14.9, 16.0, 17.4, 18.9,
  19.5, 17.0, 15.8, 16.9, 18.0, 17.2, 16.4, 18.5, 20.1, 17.6, 15.2, 16.5, 17.7, 18.4, 19.0, 17.9, 16.6, 17.3, 18.8, 17.0,
  15.9, 18.0, 19.6, 18.1, 17.3, 19.4, 20.4, 18.3, 16.2, 17.5, 18.9, 20.2, 21.0, 18.6, 17.5, 18.4, 19.8, 18.1, 16.8, 19.1,
  20.6, 19.3, 18.2, 16.4, 15.7, 17.8, 19.4, 20.6, 21.3, 18.9, 17.0, 18.8, 20.0, 19.2, 18.5, 20.4, 22.1, 19.1, 16.9, 18.2,
  19.7, 20.9, 21.5, 19.4, 17.8, 19.2, 20.8, 19.9, 18.4, 20.6, 22.3, 19.5, 17.2, 19.3, 21.0, 20.2, 19.3, 21.2, 22.6, 20.0,
  18.0, 20.1, 21.8, 20.5, 19.6, 21.7, 23.0, 20.2, 17.6, 19.8, 21.2, 20.7, 20.3, 22.1, 23.4, 21.0, 18.7, 20.4, 22.0, 21.1,
  19.9, 25.0, 31.0, 24.0, 20.5, 22.4, 23.6, 20.8, 18.9, 21.3, 22.8, 21.9, 21.4, 23.0, 24.2, 21.6, 19.5, 21.8, 23.1, 22.0,
  20.7, 23.2, 25.0, 28.0, 31.0, 23.5, 21.9, 23.4, 24.6, 21.7, 19.8, 22.1, 23.8, 22.9, 22.2, 24.5, 26.0, 23.1, 20.6, 22.8,
  24.8, 23.4, 22.5, 24.9, 26.4, 23.0, 21.3, 23.6, 25.3, 24.4, 23.7, 25.6, 27.0, 23.8, 22.0, 24.7, 26.8, 27.0, 13.5];

const OURS = [OURS_00, OURS_01, OURS_02, OURS_03, OURS_04, OURS_05, OURS_06, OURS_07, OURS_08, OURS_09, OURS_10];
const VTA = [VTA_00, VTA_01, VTA_02, VTA_03, VTA_04, VTA_05, VTA_06, VTA_07, VTA_08, VTA_09, VTA_10];

// ---------- chart ----------
const FONT = "DejaVu Sans";
const X_MIN = -0.05 * X_LAST;
const X_MAX = 1.05 * X_LAST;

function toPoints(arr: number[]) {
  const step = X_LAST / (arr.length - 1);
  return arr.map((v, i) => [i * step, v]);
}

function lineSeries(arrs: number[][], axis: number) {
  return arrs.map((arr, k) => ({
    type: "line",
    name: `${axis === 0 ? "Ours" : "VTA"} ${COEFS[k].toFixed(1)}`,
    xAxisIndex: axis,
    yAxisIndex: axis,
    data: toPoints(arr),
    showSymbol: false,
    symbol: "none",
    clip: true,
    silent: true,
    lineStyle: { color: PLASMA[k], width: 3, opacity: 0.7, join: "round" },
    z: 2 + k,
  }));
}

export default function App() {
  const ref = useRef<HTMLDivElement>(null);
  useEffect(() => {
    if (!ref.current) return;
    const chart = echarts.init(ref.current, undefined, { renderer: "svg" });
    const axisLabel = { color: "#000", fontSize: 20, fontFamily: FONT, margin: 15 };
    const tick = { show: true, length: 7, lineStyle: { color: "#000", width: 1.5 } };
    const axLine = { show: true, lineStyle: { color: "#000", width: 1.5 } };
    const gridBase = { show: true, borderColor: "#000", borderWidth: 1.5, backgroundColor: "transparent", containLabel: false };
    const xAxisPlot = (gi: number) => ({
      type: "value",
      gridIndex: gi,
      min: X_MIN,
      max: X_MAX,
      axisLine: axLine,
      axisTick: { ...tick, customValues: X_TICKS },
      axisLabel: { show: false, customValues: X_TICKS },
      splitLine: { show: false },
    });
    const stops = PLASMA.map((c, i) => ({ offset: COEFS[i], color: c }));
    const txt = (text: string, x: number, y: number, size: number, rot = 0) => ({
      type: "text",
      x,
      y,
      rotation: rot,
      silent: true,
      style: { text, font: `${size}px '${FONT}'`, fill: "#000", textAlign: "center", textVerticalAlign: "middle", align: "center", verticalAlign: "middle" },
    });
    chart.setOption({
      animation: false,
      backgroundColor: "#fff",
      grid: [
        { ...gridBase, left: 101, top: 47, width: 672, height: 284 },
        { ...gridBase, left: 101, top: 389, width: 672, height: 285 },
        { ...gridBase, left: 817, top: 47, width: 32, height: 627 },
      ],
      xAxis: [
        xAxisPlot(0),
        xAxisPlot(1),
        { type: "category", gridIndex: 2, data: [""], show: false },
      ],
      yAxis: [
        { type: "value", gridIndex: 0, min: 5, max: 35, interval: 5, axisLine: axLine, axisTick: tick, axisLabel, splitLine: { show: false } },
        { type: "value", gridIndex: 1, min: 0, max: 30, interval: 5, axisLine: axLine, axisTick: tick, axisLabel, splitLine: { show: false } },
        {
          type: "value", gridIndex: 2, position: "right", min: 0, max: 1, interval: 0.2,
          axisLine: axLine, axisTick: tick,
          axisLabel: { ...axisLabel, margin: 11, formatter: (v: number) => v.toFixed(1) },
          splitLine: { show: false },
        },
      ],
      series: [
        ...lineSeries(OURS, 0),
        ...lineSeries(VTA, 1),
        {
          type: "bar",
          name: "colorbar",
          xAxisIndex: 2,
          yAxisIndex: 2,
          data: [CB_TICKS[CB_TICKS.length - 1]],
          barWidth: "100%",
          silent: true,
          itemStyle: { color: new echarts.graphic.LinearGradient(0, 1, 0, 0, stops) },
        },
      ],
      graphic: [
        txt("Ours", 437, 23, 27),
        txt("VTA", 437, 366, 27),
        txt("Optimization iterations", 437, 708, 23),
        txt("Average Timesteps Per Segment", 28, 358, 24, Math.PI / 2),
        txt("Abstraction Bonus Coefficient", 919, 370, 22, Math.PI / 2),
      ],
    });
    return () => chart.dispose();
  }, []);
  return <div ref={ref} style={{ position: "fixed", left: 0, top: 0, width: 933, height: 726, background: "#fff" }} />;
}
